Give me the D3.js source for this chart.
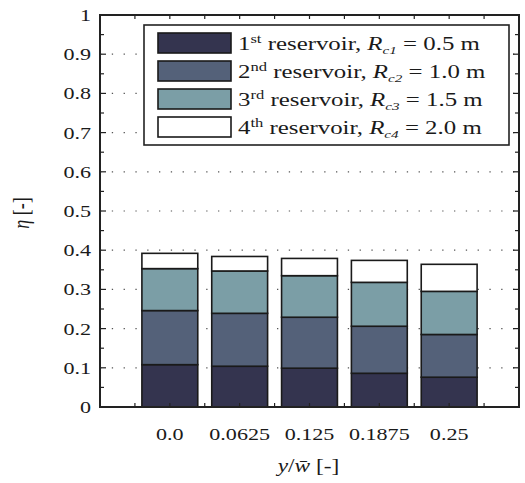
<!DOCTYPE html>
<html>
<head>
<meta charset="utf-8">
<script src="https://cdn.jsdelivr.net/npm/d3@7"></script>
<style>
  body { margin: 0; background: #fff; }
  text { font-family: "Liberation Serif", "Times New Roman", serif; fill: #1a1a1a; }
</style>
</head>
<body>
<div id="chart"></div>
<script>
// Data
var categories = ["0.0", "0.0625", "0.125", "0.1875", "0.25"];
var res1 = [0.108, 0.104, 0.099, 0.086, 0.076];
var res2 = [0.138, 0.135, 0.130, 0.120, 0.109];
var res3 = [0.107, 0.108, 0.106, 0.112, 0.110];
var res4 = [0.039, 0.037, 0.044, 0.056, 0.069];
var seriesNames = ["1", "2", "3", "4"];
var seriesSup = ["st", "nd", "rd", "th"];
var radii = ["0.5", "1.0", "1.5", "2.0"];
var yTicks = [0, 0.1, 0.2, 0.3, 0.4, 0.5, 0.6, 0.7, 0.8, 0.9, 1];

var colors = ["#34344f", "#546179", "#7b9ea6", "#ffffff"];

var svgWidth = 525;
var svgHeight = 483;
var margin = { top: 15, right: 6, bottom: 76, left: 100 };
var width = svgWidth - margin.left - margin.right;
var height = svgHeight - margin.top - margin.bottom;
var sx = 1.3; // the figure is stretched horizontally

var svg = d3.select("#chart").append("svg")
  .attr("width", svgWidth)
  .attr("height", svgHeight);

var g = svg.append("g")
  .attr("transform", `translate(${margin.left}, ${margin.top})`);

// Scales
var x = d3.scaleLinear().domain([0, categories.length + 1]).range([0, width]);
var y = d3.scaleLinear().domain([0, 1]).range([height, 0]);
var barW = (x(1) - x(0)) * 0.8;

// dotted grid
g.selectAll(".grid")
  .data(yTicks.filter(d => d > 0 && d < 1))
  .enter().append("line")
  .attr("x1", 0).attr("x2", width)
  .attr("y1", d => y(d)).attr("y2", d => y(d))
  .attr("stroke", "#555")
  .attr("stroke-width", 1.2)
  .attr("stroke-dasharray", "1.3 10.5");

// stacked bars
var table = categories.map(function(c, i) {
  return { cat: c, i: i, s0: res1[i], s1: res2[i], s2: res3[i], s3: res4[i] };
});
var stack = d3.stack().keys(["s0", "s1", "s2", "s3"])(table);

stack.forEach(function(layer, k) {
  g.selectAll(".bar" + k)
    .data(layer)
    .enter().append("rect")
    .attr("x", d => x(d.data.i + 1) - barW / 2)
    .attr("width", barW)
    .attr("y", d => y(d[1]))
    .attr("height", d => y(d[0]) - y(d[1]))
    .attr("fill", colors[k])
    .attr("stroke", "#1a1a1a")
    .attr("stroke-width", 1.6);
});

// ticks (inward) on all sides
var minorY = d3.range(0, 1.0001, 0.05);
var minorX = d3.range(0.5, categories.length + 0.6, 0.5);

[0, width].forEach(function(xx, side) {
  g.selectAll(".yt" + side)
    .data(minorY)
    .enter().append("line")
    .attr("x1", xx)
    .attr("x2", d => xx + (side ? -1 : 1) * (Math.round(d * 100) % 10 === 0 ? 6 : 4))
    .attr("y1", d => y(d)).attr("y2", d => y(d))
    .attr("stroke", "#222").attr("stroke-width", 1.2);
});
[height, 0].forEach(function(yy, side) {
  g.selectAll(".xt" + side)
    .data(minorX)
    .enter().append("line")
    .attr("x1", d => x(d)).attr("x2", d => x(d))
    .attr("y1", yy)
    .attr("y2", yy + (side ? 4 : -4))
    .attr("stroke", "#222").attr("stroke-width", 1.2);
});

// frame
g.append("rect")
  .attr("width", width).attr("height", height)
  .attr("fill", "none").attr("stroke", "#222").attr("stroke-width", 2);

// y tick labels
g.selectAll(".ylab")
  .data(yTicks)
  .enter().append("text")
  .attr("transform", d => `translate(-9, ${y(d)}) scale(${sx}, 1)`)
  .attr("dy", "0.35em")
  .attr("text-anchor", "end")
  .attr("font-size", 17)
  .text(d => d === 0 ? "0" : d === 1 ? "1" : d3.format(".1f")(d));

// x tick labels
g.selectAll(".xlab")
  .data(categories)
  .enter().append("text")
  .attr("transform", (d, i) => `translate(${x(i + 1)}, ${height + 33}) scale(${sx}, 1)`)
  .attr("text-anchor", "middle")
  .attr("font-size", 17)
  .text(d => d);

// axis titles
var xt = g.append("text")
  .attr("transform", `translate(${x(3) - 1}, ${height + 65}) scale(${sx}, 1)`)
  .attr("text-anchor", "middle")
  .attr("font-size", 18);
xt.append("tspan").attr("font-style", "italic").text("y");
xt.append("tspan").text("/");
xt.append("tspan").attr("font-style", "italic").text("w\u0304");
xt.append("tspan").text(" [-]");

var yt = g.append("text")
  .attr("transform", `translate(-71, ${y(0.5) + 2}) scale(${sx}, 1) rotate(-90)`)
  .attr("text-anchor", "middle")
  .attr("font-size", 18);
yt.append("tspan").attr("font-style", "italic").text("\u03b7");
yt.append("tspan").text(" [-]");

// legend
var leg = g.append("g").attr("transform", "translate(44, 10)");
leg.append("rect")
  .attr("width", 365).attr("height", 120)
  .attr("fill", "#fff").attr("stroke", "#222").attr("stroke-width", 1.6);

seriesNames.forEach(function(name, k) {
  var row = leg.append("g").attr("transform", `translate(14, ${8 + k * 28})`);
  row.append("rect")
    .attr("width", 73).attr("height", 20)
    .attr("fill", colors[k])
    .attr("stroke", "#1a1a1a").attr("stroke-width", 1.6);
  var t = row.append("text")
    .attr("transform", `translate(80, 17) scale(1.38, 1)`)
    .attr("font-size", 18);
  t.append("tspan").text(name);
  t.append("tspan").attr("font-size", 12).attr("dy", -7).text(seriesSup[k]);
  t.append("tspan").attr("dy", 7).text(" reservoir, ");
  t.append("tspan").attr("font-style", "italic").text("R");
  t.append("tspan").attr("font-style", "italic").attr("font-size", 11).attr("dy", 4).text("c" + (k + 1));
  t.append("tspan").attr("dy", -4).text(" = " + radii[k] + " m");
});
</script>
</body>
</html>
